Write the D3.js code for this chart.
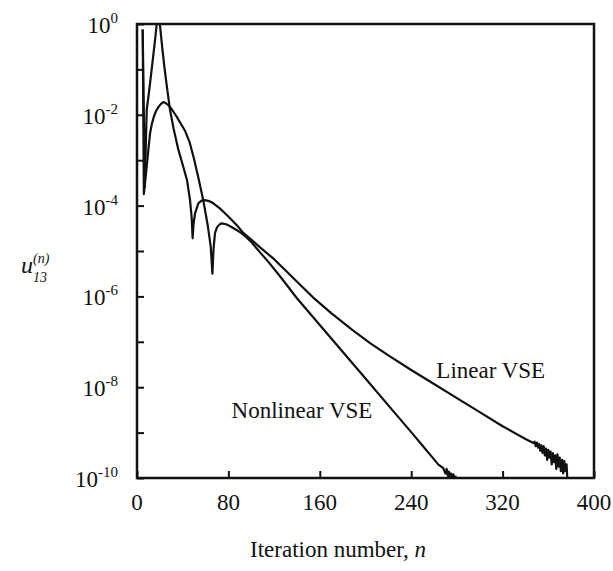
<!DOCTYPE html>
<html>
<head>
<meta charset="utf-8">
<script src="https://cdn.jsdelivr.net/npm/d3@7"></script>
<style>
  body { margin: 0; background: #fff; }
  text { font-family: "Liberation Serif", "Times New Roman", serif; fill: #111; }
</style>
</head>
<body>
<svg id="graph" width="613" height="571"></svg>
<script>
// iteration number and log10 of u13 for each curve
var nonlinearN = [5, 6, 7, 8.5, 10, 11.5, 13, 15, 17, 19, 21, 23, 25, 28, 31, 34.7, 38, 42, 46, 50, 54, 58, 62, 64.5, 66,
  67, 68.3, 70, 72, 74, 78, 82, 86, 90, 94, 100, 107.7, 115, 125, 140, 160, 180, 200, 220, 240, 250, 258, 264,
  268, 270, 271, 272, 273, 274, 275, 276, 277, 278, 279, 280];
var nonlinearExp = [-0.12, -3.75, -3.5, -3.14, -2.75, -2.4, -2.2, -2.02, -1.9, -1.82, -1.76, -1.72, -1.74, -1.8, -1.9, -2.04, -2.18, -2.35, -2.6, -2.98, -3.42, -3.88, -4.45, -4.9, -5.5,
  -4.95, -4.6, -4.48, -4.42, -4.39, -4.41, -4.46, -4.52, -4.58, -4.66, -4.8, -5.03, -5.24, -5.55, -6.04, -6.63, -7.22, -7.81, -8.4, -8.99, -9.29, -9.53, -9.71,
  -9.78, -9.9, -9.8, -9.95, -9.86, -10.05, -9.9, -10.0, -9.92, -10.06, -9.97, -10.2];

var linearN = [5, 6.8, 8, 8.5, 10.5, 12.8, 15.8, 17.2, 18.5, 20.1, 22, 24, 26, 28.9, 32, 36, 40, 43.8, 46.4, 47.8, 48.7,
  49.5, 50.8, 53.7, 56.5, 59.5, 63, 66.8, 72, 77, 81.4, 88, 93, 100, 107.7, 120, 131, 145, 154, 170, 189, 204,
  220, 240, 260, 280, 300, 320, 340, 347, 348, 349, 350, 351, 352, 353, 354, 355, 356, 357, 358, 359, 360, 361,
  362, 363, 364, 365, 366, 367, 368, 369, 370, 371, 372, 373, 374, 375, 376, 377];
var linearExp = [-0.12, -3.6, -2.4, -1.89, -1.5, -1.01, -0.35, -0.02, 0.2, -0.02, -0.5, -0.95, -1.35, -1.89, -2.3, -2.75, -3.1, -3.44, -3.88, -4.25, -4.72,
  -4.4, -4.17, -3.95, -3.89, -3.88, -3.9, -3.95, -4.05, -4.17, -4.28, -4.45, -4.6, -4.75, -4.92, -5.18, -5.45, -5.8, -6.02, -6.37, -6.75, -7.03,
  -7.3, -7.62, -7.93, -8.24, -8.55, -8.86, -9.14, -9.23, -9.2, -9.3, -9.22, -9.33, -9.25, -9.4, -9.28, -9.45, -9.3, -9.5, -9.35, -9.6, -9.38, -9.55,
  -9.42, -9.7, -9.45, -9.65, -9.5, -9.8, -9.48, -9.75, -9.55, -9.85, -9.6, -9.9, -9.62, -9.85, -9.7, -10.2];

var xTicks = [0, 80, 160, 240, 320, 400];
var yDecades = [0, -1, -2, -3, -4, -5, -6, -7, -8, -9, -10];
var yLabelDecades = [0, -2, -4, -6, -8, -10];

function creaGrafica() {
  var svg = d3.select("#graph");
  var margin = { top: 24, right: 19, bottom: 93, left: 137 };
  var width = +svg.attr("width") - margin.left - margin.right;
  var height = +svg.attr("height") - margin.top - margin.bottom;
  var g = svg.append("g").attr("transform", "translate(" + margin.left + "," + margin.top + ")");

  var x = d3.scaleLinear().domain([0, 400]).range([0, width]);
  var y = d3.scaleLog().domain([1e-10, 1]).range([height, 0]);

  // clip the curves to the frame
  svg.append("defs").append("clipPath").attr("id", "frame")
    .append("rect").attr("width", width).attr("height", height);

  var linea = d3.line()
    .x(d => x(d[0]))
    .y(d => y(Math.pow(10, d[1])));

  var series = [
    d3.zip(linearN, linearExp),
    d3.zip(nonlinearN, nonlinearExp)
  ];

  g.append("g").attr("clip-path", "url(#frame)")
    .selectAll("path")
    .data(series)
    .enter()
    .append("path")
    .attr("d", linea)
    .attr("fill", "none")
    .attr("stroke", "#111")
    .attr("stroke-width", 2.2)
    .attr("stroke-linejoin", "round");

  // ejes: ticks point inwards
  g.append("g").attr("class", "xaxis")
    .attr("transform", "translate(0," + height + ")")
    .call(d3.axisBottom(x).tickValues(xTicks).tickSize(-7).tickSizeOuter(0).tickFormat(""));
  g.append("g").attr("class", "yaxis")
    .call(d3.axisLeft(y).tickValues(yDecades.map(e => Math.pow(10, e))).tickSize(-7).tickSizeOuter(0).tickFormat(""));
  g.selectAll(".tick line").attr("stroke", "#111").attr("stroke-width", 2);
  g.selectAll(".domain").remove();

  // frame
  g.append("rect")
    .attr("width", width).attr("height", height)
    .attr("fill", "none").attr("stroke", "#111").attr("stroke-width", 2.5);

  // x tick labels
  g.selectAll(".xlab")
    .data(xTicks)
    .enter()
    .append("text")
    .attr("class", "xlab")
    .attr("x", d => x(d))
    .attr("y", height + 32)
    .attr("text-anchor", "middle")
    .attr("font-size", 23)
    .text(d => d);

  // y tick labels 10^k
  var ylab = g.selectAll(".ylab")
    .data(yLabelDecades)
    .enter()
    .append("text")
    .attr("class", "ylab")
    .attr("x", -19)
    .attr("y", d => y(Math.pow(10, d)) + 9)
    .attr("text-anchor", "end")
    .attr("font-size", 23);
  ylab.append("tspan").text("10");
  ylab.append("tspan").attr("dy", -10).attr("font-size", 15).text(d => d);

  // series labels
  g.append("text").attr("x", x(262)).attr("y", 354).attr("font-size", 23).text("Linear VSE");
  g.append("text").attr("x", x(206)).attr("y", 394).attr("text-anchor", "end").attr("font-size", 23).text("Nonlinear VSE");

  // axis titles
  var xt = svg.append("text")
    .attr("x", 338)
    .attr("y", 557)
    .attr("text-anchor", "middle")
    .attr("font-size", 23);
  xt.append("tspan").text("Iteration number, ");
  xt.append("tspan").attr("font-style", "italic").text("n");

  svg.append("text").attr("x", 21).attr("y", 273).attr("font-size", 24).attr("font-style", "italic").text("u");
  svg.append("text").attr("x", 33).attr("y", 263).attr("font-size", 14).attr("font-style", "italic").text("(n)");
  svg.append("text").attr("x", 33).attr("y", 282).attr("font-size", 14).attr("font-style", "italic").text("13");
}

creaGrafica();
</script>
</body>
</html>
